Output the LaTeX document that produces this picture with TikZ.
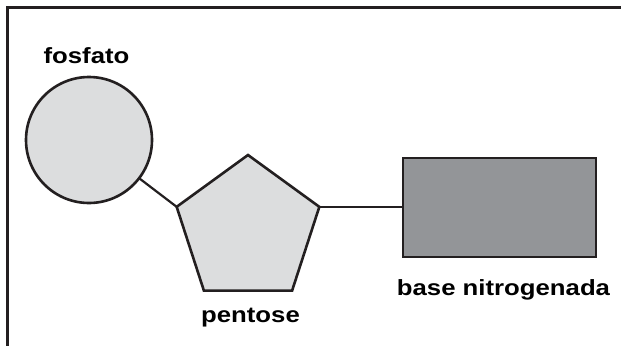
\documentclass[tikz,border=0pt]{standalone}
\usepackage{fontspec}
\setmainfont{Liberation Sans}
\usetikzlibrary{shapes.geometric}
\definecolor{ink}{HTML}{231F20}
\definecolor{lightfill}{HTML}{DCDDDE}
\definecolor{darkfill}{HTML}{939598}
\tikzset{
  shapeline/.style={draw=ink, line width=2.6pt, inner sep=0pt, outer sep=0pt},
  link/.style={draw=ink, line width=2.2pt},
  frameline/.style={draw=ink, line width=2.6pt},
  lbl/.style={anchor=base, inner sep=0pt, font=\fontsize{22}{26}\selectfont\bfseries},
}
\newcommand{\wide}[1]{\scalebox{1.17}[1]{#1}}
\begin{document}
\begin{tikzpicture}[x=1pt, y=-1pt]
\useasboundingbox (0,0) rectangle (621,346);
% frame
\coordinate (fa) at (621,7.5);
\coordinate (fb) at (7.5,7.5);
\coordinate (fc) at (7.5,346);
\draw[frameline] (fa) -- (fb) -- (fc);
% shapes
\node[shapeline, circle, fill=lightfill, minimum size=126pt] (circ) at (89,140) {};
\node[shapeline, regular polygon, regular polygon sides=5, fill=lightfill, minimum size=150pt] (pent) at (248,230) {};
\node[shapeline, rectangle, fill=darkfill, minimum width=193pt, minimum height=99pt] (base) at (499.5,207.5) {};
% connectors
\draw[link] (circ) -- (pent.corner 2);
\draw[link] (pent.corner 5) -- (base.west |- pent.corner 5);
% labels
\node[lbl] (lf) at (86.5,63) {\wide{fosfato}};
\node[lbl] (lp) at (250.5,322) {\wide{pentose}};
\node[lbl] (lb) at (503.5,295) {\wide{base nitrogenada}};
\end{tikzpicture}
\end{document}
